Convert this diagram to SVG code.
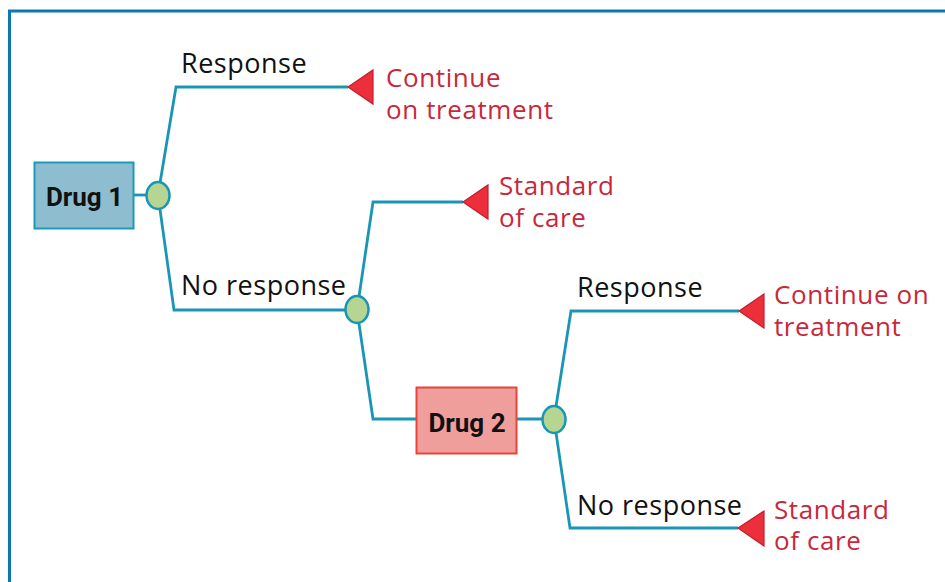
<svg xmlns="http://www.w3.org/2000/svg" width="945" height="582" viewBox="0 0 945 582">
<style>
.frame{fill:none;stroke:#0d78ad;stroke-width:3}
.conn{fill:none;stroke:#1996b6;stroke-width:2.8;stroke-linejoin:miter}
.chance{fill:#b6d592;stroke:#1996b6;stroke-width:2.5}
.term{fill:#ec2f3a;stroke:#c21f2d;stroke-width:1.2;stroke-linejoin:miter}
.lbl{font-family:"Open Sans","Noto Sans","Liberation Sans",sans-serif;font-size:27px;letter-spacing:0.5px;fill:#111}
.out{font-family:"Open Sans","Noto Sans","Liberation Sans",sans-serif;font-size:26px;letter-spacing:0.6px;fill:#c8283a}
.drug{font-family:Roboto,"Liberation Sans",sans-serif;font-size:26px;font-weight:700;fill:#111;text-anchor:middle}
</style>
<rect width="945" height="582" fill="#fff"/>
<rect class="frame" x="9.5" y="11" width="960" height="600"/>
<g id="connectors">
<line class="conn" x1="134" y1="195" x2="158" y2="195"/>
<polyline class="conn" points="158,195 176,87 348,87"/>
<polyline class="conn" points="158,195 174,310 357,310"/>
<polyline class="conn" points="357,310 373,202 463,202"/>
<polyline class="conn" points="357,310 373,419 416,419"/>
<line class="conn" x1="517" y1="419" x2="554" y2="419"/>
<polyline class="conn" points="554,419 571,311 739,311"/>
<polyline class="conn" points="554,419 570,528 738,528"/>
</g>
<g id="drug1">
<rect x="34.5" y="162.5" width="99" height="66" fill="#8fbdd0" stroke="#1a9ab8" stroke-width="2"/>
<text class="drug" x="84.5" y="205.5">Drug 1</text>
</g>
<g id="chance1"><ellipse class="chance" cx="158" cy="195.5" rx="11.5" ry="13.5"/></g>
<g id="chance2"><ellipse class="chance" cx="357" cy="309.5" rx="11.5" ry="13.5"/></g>
<g id="drug2">
<rect x="416.5" y="387.5" width="100" height="66" fill="#f09e9c" stroke="#e8443a" stroke-width="2"/>
<text class="drug" x="467" y="431.5">Drug 2</text>
</g>
<g id="chance3"><ellipse class="chance" cx="554" cy="419.5" rx="11.5" ry="13.5"/></g>
<g id="labels">
<text class="lbl" x="181" y="73">Response</text>
<text class="lbl" x="181" y="295">No response</text>
<text class="lbl" x="577" y="297">Response</text>
<text class="lbl" x="577" y="515">No response</text>
</g>
<g id="outcome1">
<polygon class="term" points="348,87 373,70 373,104"/>
<text class="out" x="386" y="87">Continue</text>
<text class="out" x="386" y="119">on treatment</text>
</g>
<g id="outcome2">
<polygon class="term" points="463,202 488,185 488,219"/>
<text class="out" x="499" y="195">Standard</text>
<text class="out" x="499" y="227">of care</text>
</g>
<g id="outcome3">
<polygon class="term" points="739,311 764,294 764,328"/>
<text class="out" x="774" y="304">Continue on</text>
<text class="out" x="774" y="336">treatment</text>
</g>
<g id="outcome4">
<polygon class="term" points="738,528 764,511 764,546"/>
<text class="out" x="774" y="519">Standard</text>
<text class="out" x="774" y="550">of care</text>
</g>
</svg>
